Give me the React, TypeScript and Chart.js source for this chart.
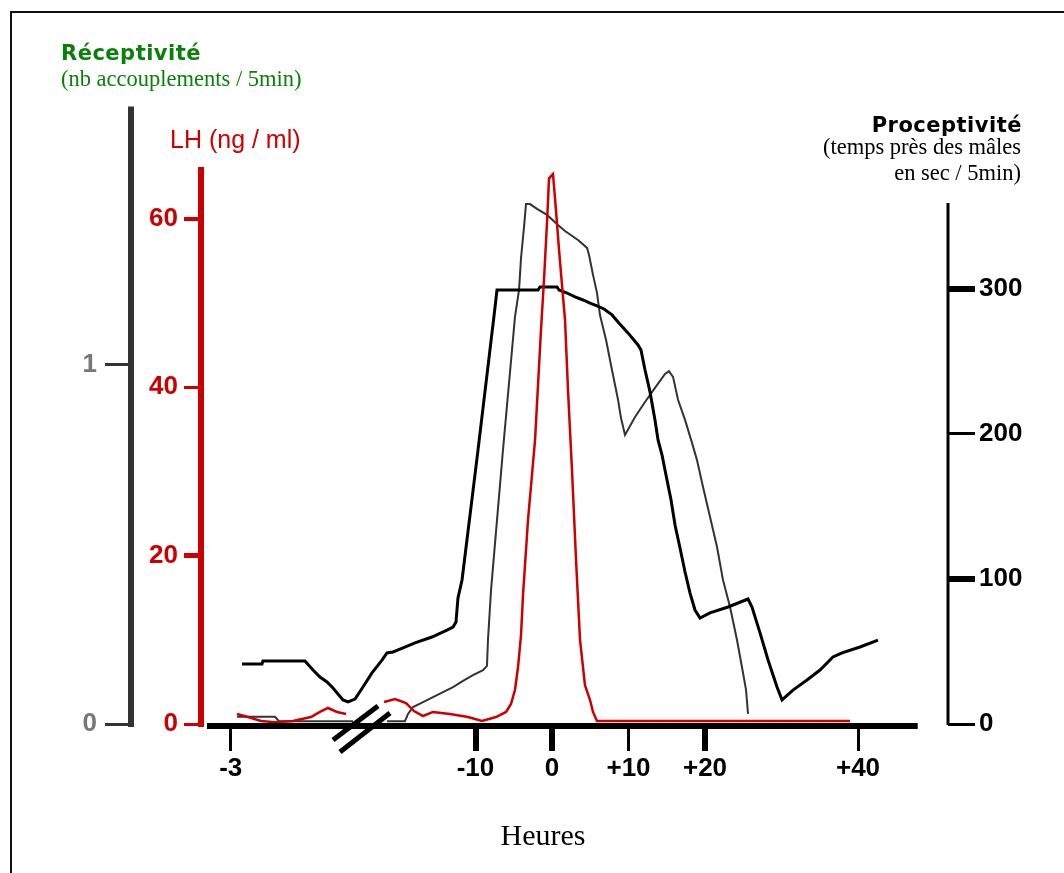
import React, { useEffect, useRef } from 'react';
import { Chart, registerables } from 'chart.js';

Chart.register(...registerables);

// ---------- data (x in hours; the "-3" part sits before the axis break) ----------
const xTickValues = [-42, -10, 0, 10, 20, 40];
const xTickLabels = ['-3', '-10', '0', '+10', '+20', '+40'];
const xTickWidths = [3, 6, 6, 3, 6, 3];

const recTicks = [0, 1];
const recTickWidths = [3, 3];
const lhTicks = [0, 20, 40, 60];
const lhTickWidths = [3, 5, 3, 4];
const proTicks = [0, 100, 200, 300];
const proTickWidths = [3, 6, 3, 6];

// LH (ng/ml)
const lhHours = [-41.18, -39.74, -38.04, -36.21, -33.86, -31.5, -30.33, -29.28, -28.1, -26.93, -25.1,
  -21.96, -20.52, -19.08, -18.04, -16.86, -15.56, -13.33, -10.98, -9.15, -7.32, -6.01, -5.36, -4.84,
  -4.44, -4.05, -3.79, -3.14, -2.22, -1.44, -1.05, -0.65, -0.39, 0.13, 0.52, 0.92, 1.31, 1.7, 2.09,
  2.61, 3.14, 3.66, 4.31, 4.97, 5.36, 5.88, 38.95];
const lhValues = [1.19, 0.83, 0.36, 0.2, 0.36, 0.83, 1.43, 1.9, 1.43, 1.19, null,
  2.61, 2.97, 2.49, 1.54, 0.95, 1.43, 1.19, 0.83, 0.36, 0.83, 1.43, 2.38, 4.04,
  6.77, 10.57, 15.32, 24.2, 33.7, 46.8, 52.7, 59.6, 64.8, 65.3, 61.0, 56.3, 52.1, 48.0, 39.7,
  30.2, 19.5, 10.0, 4.6, 2.85, 1.43, 0.36, 0.36];

// Réceptivité (nb accouplements / 5min)
const recHours = [-41.18, -36.21, -35.69, -26.01, -25.1, -21.57, -19.22, -18.82, -18.17, -16.86,
  -15.56, -14.25, -12.94, -11.63, -10.33, -9.02, -8.5, -8.37, -7.97, -6.41, -4.84, -4.31, -4.05,
  -3.66, -3.4, -2.88, -1.96, -0.65, 0.78, 1.7, 3.4, 4.58, 4.84, 5.36, 5.88, 6.27, 7.06, 7.84, 8.63,
  9.02, 9.54, 10.85, 12.16, 13.46, 14.77, 15.29, 15.82, 16.47, 17.39, 18.3, 18.95, 19.74, 20.65,
  21.57, 22.35, 23.27, 24.18, 24.97, 25.36, 25.62];
const recValues = [0.02, 0.02, 0.008, 0.008, null, 0.008, 0.008, 0.028, 0.047, 0.061,
  0.075, 0.089, 0.103, 0.12, 0.136, 0.15, 0.162, 0.234, 0.373, 0.763, 1.134, 1.209, 1.298,
  1.384, 1.448, 1.448, 1.435, 1.418, 1.39, 1.373, 1.348, 1.326, 1.306, 1.251, 1.201, 1.139, 1.07, 0.986, 0.903,
  0.852, 0.805, 0.855, 0.897, 0.936, 0.975, 0.983, 0.967, 0.903, 0.847, 0.783, 0.735, 0.66, 0.577,
  0.493, 0.401, 0.326, 0.234, 0.142, 0.095, 0.028];

// Proceptivité (temps près des mâles en sec / 5min)
const proHours = [-40.52, -37.91, -37.78, -32.29, -31.24, -30.33, -29.41, -28.63, -27.32, -26.67,
  -25.75, -24.71, -23.53, -22.22, -21.57, -20.78, -19.87, -17.91, -15.69, -13.73, -12.94, -12.55,
  -12.29, -11.76, -9.67, -7.58, -7.19, -1.83, -1.57, 0.65, 0.92, 1.96, 3.01, 4.05, 4.97, 5.88, 6.8,
  7.84, 8.63, 9.93, 11.24, 11.63, 12.16, 12.81, 13.46, 13.86, 14.38, 14.9, 15.56, 16.08, 16.73,
  17.39, 18.04, 18.69, 19.35, 20.65, 23.01, 25.62, 26.14, 27.19, 28.24, 29.41, 30.07, 31.5, 33.33,
  35.03, 36.73, 37.91, 40.26, 42.61];
const proValues = [41.4, 41.4, 43.4, 43.4, 37.2, 32.4, 29.0, 24.8, 16.6, 15.2,
  17.2, 25.5, 35.2, 44.1, 49.0, 49.7, 51.7, 55.9, 60.0, 64.8, 66.9, 70.3,
  86.9, 99.3, 189.0, 281.4, 299.3, 299.3, 301.4, 301.4, 299.3, 297.2, 294.5, 292.4, 290.3, 288.3, 286.2,
  282.1, 277.2, 269.7, 261.4, 257.9, 244.1, 229.0, 209.7, 195.9, 185.5, 171.7, 154.5, 137.2, 121.4,
  104.8, 90.3, 78.6, 73.1, 76.6, 80.7, 86.2, 80.7, 62.8, 44.1, 25.5, 16.6, 23.4, 30.3,
  37.2, 46.2, 49.0, 53.1, 57.9];

// ---------- scale ranges ----------
const X_MIN = -45.88;
const X_MAX = 51.76;
const REC_MAX = 1.738;
const LH_MAX = 74.11;
const PRO_MAX = 430.3;
const REC_AXIS_TOP = 1.72;
const LH_AXIS_TOP = 66.15;
const PRO_AXIS_TOP = 359.3;
const X_AXIS_FROM = -45.1;
const X_AXIS_TO = 47.8;
const BREAK_AT = -25.1;

const TICK_FONT = { family: "'Liberation Sans', Arial, sans-serif", size: 26, weight: 'bold' as const };

const toPoints = (xs: number[], ys: (number | null)[]) => xs.map((x, i) => ({ x, y: ys[i] }));

const axesPlugin = {
  id: 'customAxes',
  afterDatasetsDraw(chart: any) {
    const { ctx, chartArea, scales } = chart;
    const x = scales.x, yR = scales.yR, yLH = scales.yLH, yP = scales.yP;
    const seg = (x1: number, y1: number, x2: number, y2: number) => {
      ctx.beginPath(); ctx.moveTo(x1, y1); ctx.lineTo(x2, y2); ctx.stroke();
    };
    ctx.save();
    ctx.lineCap = 'butt';
    const baseY = chartArea.bottom + 2;
    // horizontal axis
    ctx.strokeStyle = '#000'; ctx.lineWidth = 6;
    seg(x.getPixelForValue(X_AXIS_FROM), baseY, x.getPixelForValue(X_AXIS_TO), baseY);
    // Réceptivité axis
    ctx.strokeStyle = '#333'; ctx.lineWidth = 6;
    seg(yR.right, yR.getPixelForValue(0) + 3, yR.right, yR.getPixelForValue(REC_AXIS_TOP));
    // LH axis
    ctx.strokeStyle = '#cc0000'; ctx.lineWidth = 6;
    seg(yLH.right, yLH.getPixelForValue(0) + 3, yLH.right, yLH.getPixelForValue(LH_AXIS_TOP));
    // Proceptivité axis
    ctx.strokeStyle = '#000'; ctx.lineWidth = 3;
    seg(yP.left, yP.getPixelForValue(0) + 1, yP.left, yP.getPixelForValue(PRO_AXIS_TOP));
    // axis break
    const bx = x.getPixelForValue(BREAK_AT);
    ctx.lineWidth = 5; ctx.strokeStyle = '#000';
    seg(bx - 27, baseY + 14, bx + 18, baseY - 20);
    seg(bx - 20, baseY + 26, bx + 30, baseY - 13);
    ctx.restore();
  },
};

function tickAxis(values: number[], widths: number[], color: string, labelColor: string,
  tickLength: number, padding: number, width: number, position: 'left' | 'right', weight: number,
  min: number, max: number) {
  return {
    type: 'linear' as const,
    position,
    weight,
    min,
    max,
    afterBuildTicks: (scale: any) => { scale.ticks = values.map((v) => ({ value: v })); },
    afterFit: (scale: any) => { scale.width = width; },
    border: { display: false },
    grid: {
      drawOnChartArea: false,
      drawTicks: true,
      tickLength,
      color,
      tickColor: color,
      lineWidth: (c: any) => widths[c.index] ?? 3,
      tickWidth: (c: any) => widths[c.index] ?? 3,
    },
    ticks: {
      autoSkip: false,
      padding,
      color: labelColor,
      font: TICK_FONT,
      callback: (v: any) => String(v),
    },
  };
}

export default function App() {
  const canvasRef = useRef<HTMLCanvasElement>(null);

  useEffect(() => {
    if (!canvasRef.current) return;
    const chart = new Chart(canvasRef.current, {
      type: 'line',
      data: {
        datasets: [
          {
            label: 'LH', yAxisID: 'yLH', data: toPoints(lhHours, lhValues) as any,
            borderColor: '#cc0000', borderWidth: 2.5, pointRadius: 0, tension: 0, spanGaps: false,
          },
          {
            label: 'Proceptivité', yAxisID: 'yP', data: toPoints(proHours, proValues) as any,
            borderColor: '#000', borderWidth: 3, pointRadius: 0, tension: 0, spanGaps: false,
          },
          {
            label: 'Réceptivité', yAxisID: 'yR', data: toPoints(recHours, recValues) as any,
            borderColor: '#333', borderWidth: 2, pointRadius: 0, tension: 0, spanGaps: false,
          },
        ],
      },
      options: {
        animation: false,
        responsive: false,
        maintainAspectRatio: false,
        devicePixelRatio: 1,
        parsing: false as any,
        layout: { padding: { top: 100, left: 0, right: 0, bottom: 0 } },
        plugins: { legend: { display: false }, tooltip: { enabled: false }, title: { display: false } },
        scales: {
          x: {
            type: 'linear',
            position: 'bottom',
            min: X_MIN,
            max: X_MAX,
            afterBuildTicks: (scale: any) => { scale.ticks = xTickValues.map((v) => ({ value: v })); },
            afterFit: (scale: any) => { scale.height = 149; },
            border: { display: false },
            grid: {
              drawOnChartArea: false,
              drawTicks: true,
              tickLength: 27,
              color: '#000',
              tickColor: '#000',
              lineWidth: (c: any) => xTickWidths[c.index] ?? 3,
              tickWidth: (c: any) => xTickWidths[c.index] ?? 3,
            },
            ticks: {
              autoSkip: false,
              maxRotation: 0,
              padding: 2,
              color: '#000',
              font: TICK_FONT,
              callback: (_v: any, i: number) => xTickLabels[i],
            },
          },
          yLH: tickAxis(lhTicks, lhTickWidths, '#cc0000', '#cc0000', 17, 6, 70, 'left', 0, 0, LH_MAX) as any,
          yR: tickAxis(recTicks, recTickWidths, '#333', '#777', 26, 8, 131, 'left', 1, 0, REC_MAX) as any,
          yP: tickAxis(proTicks, proTickWidths, '#000', '#000', 27, 4, 116, 'right', 0, 0, PRO_MAX) as any,
        },
      },
      plugins: [axesPlugin],
    });
    return () => chart.destroy();
  }, []);

  const serif = "'Liberation Serif', 'Times New Roman', serif";
  const boldSans = "'DejaVu Sans', Verdana, sans-serif";
  const green = '#0a800a';

  return (
    <div style={{ position: 'fixed', left: 0, top: 0, width: 1064, height: 873, overflow: 'hidden', background: '#fff' }}>
      <div style={{ position: 'absolute', left: 10, top: 11, width: 1054, height: 862, borderTop: '2px solid #111', borderLeft: '2px solid #111', boxSizing: 'border-box' }} />
      <canvas ref={canvasRef} width={1064} height={873} style={{ position: 'absolute', left: 0, top: 0, width: 1064, height: 873 }} />
      <div style={{ position: 'absolute', left: 61, top: 43, font: `bold 21px ${boldSans}`, lineHeight: '21px', letterSpacing: '0.5px', color: green, whiteSpace: 'nowrap' }}>Réceptivité</div>
      <div style={{ position: 'absolute', left: 61, top: 66, font: `22.5px ${serif}`, lineHeight: '25px', color: green, whiteSpace: 'nowrap' }}>(nb accouplements / 5min)</div>
      <div style={{ position: 'absolute', left: 170, top: 125, font: "25px 'Liberation Sans', Arial, sans-serif", lineHeight: '28px', color: '#cc0000', whiteSpace: 'nowrap' }}>LH (ng / ml)</div>
      <div style={{ position: 'absolute', left: 700, top: 115, width: 322, textAlign: 'right', font: `bold 21px ${boldSans}`, lineHeight: '21px', letterSpacing: '0.5px', color: '#000', whiteSpace: 'nowrap' }}>Proceptivité</div>
      <div style={{ position: 'absolute', left: 700, top: 134, width: 321, textAlign: 'right', font: `22.5px ${serif}`, lineHeight: '26px', color: '#000', whiteSpace: 'nowrap' }}>(temps près des mâles<br />en sec / 5min)</div>
      <div style={{ position: 'absolute', left: 443, top: 818, width: 200, textAlign: 'center', font: `30px ${serif}`, lineHeight: '34px', color: '#000', whiteSpace: 'nowrap' }}>Heures</div>
    </div>
  );
}
